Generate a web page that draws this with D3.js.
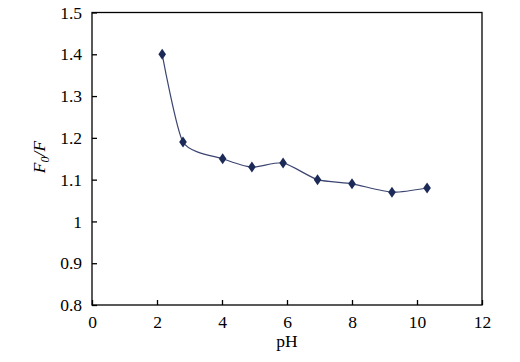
<!DOCTYPE html>
<html>
<head>
<meta charset="utf-8">
<script src="https://cdn.jsdelivr.net/npm/d3@7"></script>
<style>
  body { margin: 0; background: #fff; }
  svg text { font-family: "Liberation Serif", "Times New Roman", serif; fill: #000; }
</style>
</head>
<body>
<svg width="520" height="362"></svg>
<script>
// pH vs F0/F
var phValues = [2.16, 2.8, 4.02, 4.92, 5.88, 6.94, 8.0, 9.23, 10.31];
var ratioValues = [1.40, 1.19, 1.15, 1.13, 1.14, 1.10, 1.09, 1.07, 1.08];
var xTicks = [0, 2, 4, 6, 8, 10, 12];
var yTicks = [0.8, 0.9, 1, 1.1, 1.2, 1.3, 1.4, 1.5];

var data = phValues.map(function(p, i) { return { x: p, y: ratioValues[i] }; });

var svg = d3.select("svg");
var plotLeft = 92, plotRight = 482, plotTop = 12.5, plotBottom = 305;

var x = d3.scaleLinear().domain([0, 12]).range([plotLeft, plotRight]);
var y = d3.scaleLinear().domain([0.8, 1.5]).range([plotBottom, plotTop]);

// plot frame
svg.append("rect")
    .attr("x", plotLeft).attr("y", plotTop)
    .attr("width", plotRight - plotLeft).attr("height", plotBottom - plotTop)
    .attr("fill", "none").attr("stroke", "#000").attr("stroke-width", 1.3);

// x axis, ticks pointing inward
var xAxis = svg.append("g")
    .attr("transform", "translate(0," + plotBottom + ")")
    .call(d3.axisBottom(x).tickValues(xTicks).tickSize(-5).tickPadding(10.5).tickFormat(d3.format("d")));
xAxis.select(".domain").remove();
xAxis.selectAll("line").attr("stroke", "#000").attr("stroke-width", 1.3);
xAxis.selectAll("text").style("font-size", "17.5px");

// y axis
var yAxis = svg.append("g")
    .attr("transform", "translate(" + plotLeft + ",0)")
    .call(d3.axisLeft(y).tickValues(yTicks).tickSize(-5).tickPadding(10)
        .tickFormat(function(d) { return String(+d.toFixed(1)); }));
yAxis.select(".domain").remove();
yAxis.selectAll("line").attr("stroke", "#000").attr("stroke-width", 1.3);
yAxis.selectAll("text").style("font-size", "17.5px");

// axis titles
svg.append("text")
    .attr("x", (plotLeft + plotRight) / 2).attr("y", 347)
    .attr("text-anchor", "middle")
    .style("font-size", "17.5px")
    .text("pH");

var yTitle = svg.append("text")
    .attr("transform", "translate(45,157) rotate(-90)")
    .attr("text-anchor", "middle")
    .style("font-size", "17.5px")
    .style("font-style", "italic");
yTitle.append("tspan").text("F");
yTitle.append("tspan").attr("dy", 4).style("font-size", "12px").text("0");
yTitle.append("tspan").attr("dy", -4).text("/F");

// smoothed line
var line = d3.line()
    .x(function(d) { return x(d.x); })
    .y(function(d) { return y(d.y); })
    .curve(d3.curveCardinal.tension(0.35));

svg.append("path")
    .datum(data)
    .attr("d", line)
    .attr("fill", "none")
    .attr("stroke", "#3b4570")
    .attr("stroke-width", 1.2);

// diamond markers
svg.selectAll("path.marker")
    .data(data)
    .enter()
    .append("path")
    .attr("class", "marker")
    .attr("d", "M0,-5.5L3.8,0L0,5.5L-3.8,0Z")
    .attr("transform", function(d) { return "translate(" + x(d.x) + "," + y(d.y) + ")"; })
    .attr("fill", "#1c2a58");
</script>
</body>
</html>
